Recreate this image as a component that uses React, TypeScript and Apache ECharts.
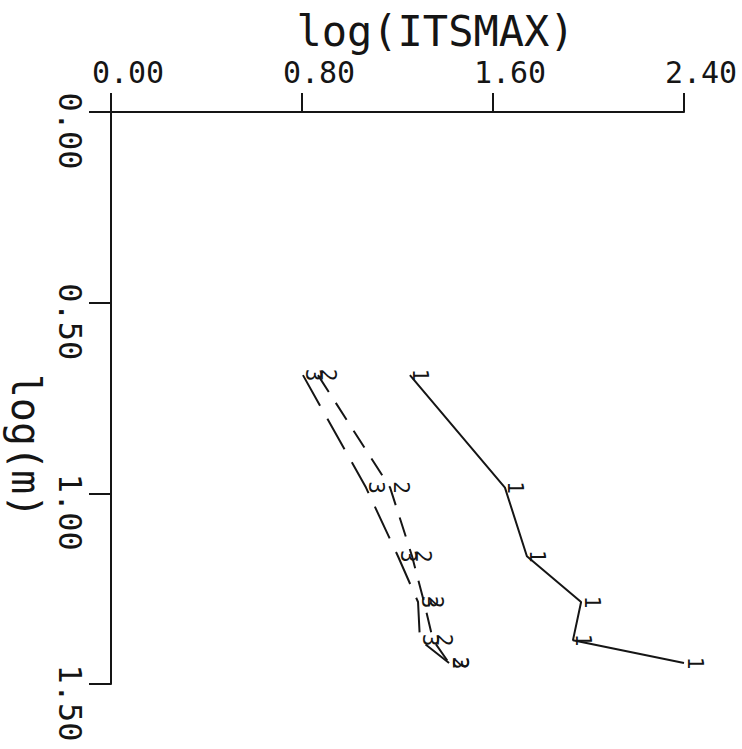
import React, { useEffect, useRef } from "react";
import * as echarts from "echarts";

// log(m) levels shared by all three curves
const logM = [0.69, 0.985, 1.165, 1.285, 1.385, 1.445];
// log(ITSMAX) for each curve
const series1X = [1.252, 1.65, 1.742, 1.969, 1.935, 2.4];
const series2X = [0.867, 1.169, 1.261, 1.311, 1.349, 1.416];
const series3X = [0.804, 1.068, 1.202, 1.286, 1.294, 1.416];
const markerLabels = ["1", "2", "3"];
const xTitle = "log(ITSMAX)";
const yTitle = "log(m)";

const FONT = '"DejaVu Sans Mono", "Liberation Mono", monospace';
const INK = "#151515";

export default function App() {
  const ref = useRef<HTMLDivElement>(null);
  useEffect(() => {
    if (!ref.current) return;
    const chart = echarts.init(ref.current, null, { renderer: "svg" });
    const sets = [series1X, series2X, series3X];
    const dashes: any[] = ["solid", [20, 13], [35, 15]];
    const lineSeries = sets.map((xs, i) => ({
      type: "line",
      name: "s" + markerLabels[i],
      data: xs.map((x, j) => [x, logM[j]]),
      symbol: "none",
      lineStyle: { color: INK, width: 2, type: dashes[i] },
      z: 2,
    }));
    const markerSeries = sets.map((xs, i) => ({
      type: "custom",
      name: "m" + markerLabels[i],
      coordinateSystem: "cartesian2d",
      data: xs.map((x, j) => [x, logM[j]]),
      z: 3,
      renderItem: (params: any, api: any) => {
        const p = api.coord([api.value(0), api.value(1)]);
        return {
          type: "text",
          x: p[0],
          y: p[1],
          rotation: -Math.PI / 2,
          style: {
            text: markerLabels[i],
            x: 0,
            y: 0,
            align: "center",
            verticalAlign: "bottom",
            font: '21px "DejaVu Sans Mono"',
            fill: INK,
          },
        };
      },
    }));
    chart.setOption({
      animation: false,
      backgroundColor: "#ffffff",
      grid: {
        left: 111,
        top: 112,
        right: 58,
        bottom: 65,
        containLabel: false,
        outerBoundsMode: "none",
      },
      xAxis: {
        type: "value",
        position: "top",
        min: 0,
        max: 2.4,
        interval: 0.8,
        name: xTitle,
        nameLocation: "middle",
        nameGap: 58,
        nameTextStyle: { fontFamily: FONT, fontSize: 42, color: INK, padding: [0, 0, 0, 76] },
        axisLine: { show: true, onZero: false, lineStyle: { color: INK, width: 2 } },
        axisTick: { show: true, length: 19, lineStyle: { color: INK, width: 2 } },
        axisLabel: {
          fontFamily: FONT,
          fontSize: 30,
          color: INK,
          margin: 25,
          padding: [0, 0, 0, 34],
          formatter: (v: number) => v.toFixed(2),
        },
        splitLine: { show: false },
      },
      yAxis: {
        type: "value",
        inverse: true,
        min: 0,
        max: 1.5,
        interval: 0.5,
        name: yTitle,
        nameLocation: "middle",
        nameRotate: -90,
        nameGap: 62,
        nameTextStyle: { fontFamily: FONT, fontSize: 40, color: INK, padding: [0, 0, 0, 96] },
        axisLine: { show: true, onZero: false, lineStyle: { color: INK, width: 2 } },
        axisTick: { show: true, length: 22, lineStyle: { color: INK, width: 2 } },
        axisLabel: {
          rotate: -90,
          fontFamily: FONT,
          fontSize: 32,
          color: INK,
          margin: 25,
          padding: [0, 0, 0, 38],
          formatter: (v: number) => v.toFixed(2),
        },
        splitLine: { show: false },
      },
      series: [...lineSeries, ...markerSeries],
    });
    return () => chart.dispose();
  }, []);
  return (
    <div
      ref={ref}
      style={{ position: "absolute", left: 0, top: 0, width: 742, height: 749 }}
    />
  );
}
